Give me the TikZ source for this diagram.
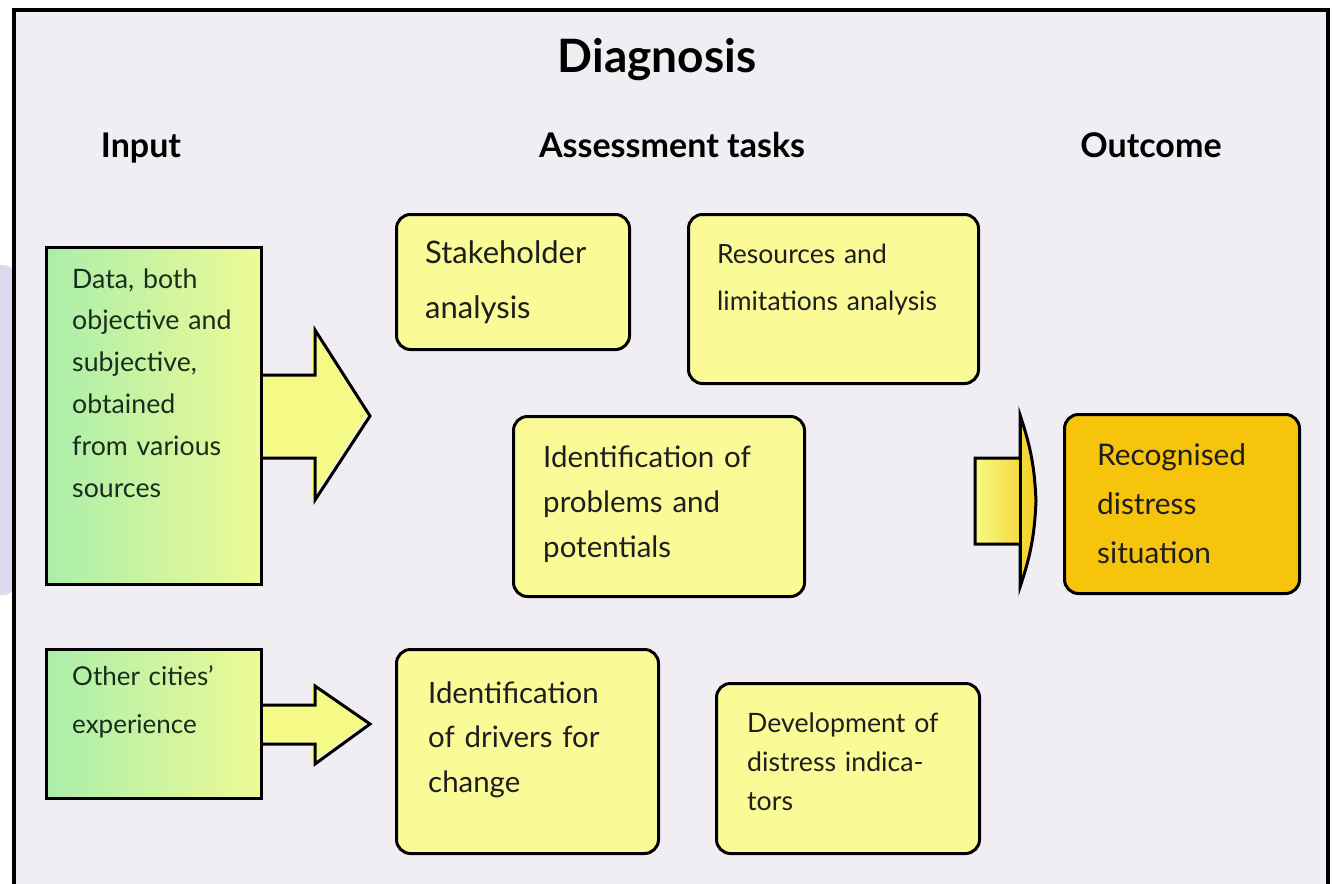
\documentclass[tikz,border=0pt]{standalone}
\usepackage{fontspec}
\setmainfont{Lato}
\usetikzlibrary{calc}
\definecolor{bgc}{RGB}{240,238,243}
\definecolor{lav}{RGB}{220,218,236}
\definecolor{boxy}{RGB}{250,250,150}
\definecolor{grn}{RGB}{170,238,170}
\definecolor{gyl}{RGB}{238,250,150}
\definecolor{arry}{RGB}{245,250,135}
\definecolor{orng}{RGB}{247,196,12}
\definecolor{ink}{RGB}{30,30,30}
\definecolor{ginkc}{RGB}{25,45,30}
\tikzset{
  ybox/.style={draw, line width=3pt, rounded corners=14pt, fill=boxy, inner sep=0pt, anchor=north west},
  gbox/.style={draw, line width=3pt, left color=grn, right color=gyl, inner sep=0pt, anchor=north west},
  obox/.style={draw, line width=3pt, rounded corners=14pt, fill=orng, inner sep=0pt, anchor=north west},
  txt/.style={inner sep=0pt, anchor=base west, align=left, text=ink},
  head/.style={inner sep=0pt, anchor=base, text=black, font=\fontsize{34}{40}\selectfont\bfseries},
  barrow/.style={line width=3pt, line join=miter},
}
\begin{document}
\begin{tikzpicture}[x=1pt,y=-1pt]
\useasboundingbox (0,0) rectangle (1332,883);
\fill[white] (0,0) rectangle (1332,883);
\fill[lav, rounded corners=10pt] (-30,265) rectangle (14,595);
\fill[bgc] (14,10) rectangle (1328,900);
\draw[line width=4pt] (14,900) -- (14,10) -- (1328,10) -- (1328,900);

% headings
\node[inner sep=0pt, anchor=base, font=\fontsize{46}{52}\selectfont\bfseries] (title) at (657,72) {Diagnosis};
\node[head] (hin) at (141,157) {Input};
\node[head] (hass) at (672,157) {Assessment tasks};
\node[head] (hout) at (1151,157) {Outcome};

% input arrows (fill first)
\coordinate (dE) at (260,414.5);
\coordinate (oE) at (260,722.5);
\fill[arry] ($(dE)+(-5,-41)$) -- ($(dE)+(52,-41)$) -- ($(dE)+(52,-86)$) -- ($(dE)+(107,0)$) -- ($(dE)+(52,84)$) -- ($(dE)+(52,42)$) -- ($(dE)+(-5,42)$) -- cycle;
\fill[arry] ($(oE)+(-5,-19)$) -- ($(oE)+(52,-19)$) -- ($(oE)+(52,-38)$) -- ($(oE)+(107,0)$) -- ($(oE)+(52,40)$) -- ($(oE)+(52,20)$) -- ($(oE)+(-5,20)$) -- cycle;

% input boxes
\node[gbox, minimum width=215pt, minimum height=337pt] (data) at (45,246) {};
\node[gbox, minimum width=215pt, minimum height=149pt] (other) at (45,648) {};
\draw[barrow] ($(data.east)+(0,-41)$) -- ($(data.east)+(52,-41)$) -- ($(data.east)+(52,-86)$) -- ($(data.east)+(107,0)$) -- ($(data.east)+(52,84)$) -- ($(data.east)+(52,42)$) -- ($(data.east)+(0,42)$);
\draw[barrow] ($(other.east)+(0,-19)$) -- ($(other.east)+(52,-19)$) -- ($(other.east)+(52,-38)$) -- ($(other.east)+(107,0)$) -- ($(other.east)+(52,40)$) -- ($(other.east)+(52,20)$) -- ($(other.east)+(0,20)$);
\node[txt, text=ginkc, text width=185pt, font=\fontsize{26.7}{41.8}\selectfont] (datat) at (72,288) {Data, both\\objective and\\subjective,\\obtained\\from various\\sources};
\node[txt, text=ginkc, text width=185pt, font=\fontsize{26}{48}\selectfont] (othert) at (72,685) {Other cities'\\experience};

% assessment boxes
\node[ybox, minimum width=233pt, minimum height=135pt] (stake) at (395,213) {};
\node[txt, text width=200pt, font=\fontsize{31}{55}\selectfont] (staket) at (425,263) {Stakeholder\\analysis};
\node[ybox, minimum width=290pt, minimum height=169pt] (res) at (687,213) {};
\node[txt, text width=260pt, font=\fontsize{26.5}{47}\selectfont] (rest) at (717,263) {Resources and\\limitations analysis};
\node[ybox, minimum width=291pt, minimum height=180pt] (prob) at (512,415) {};
\node[txt, text width=260pt, font=\fontsize{29.5}{45}\selectfont] (probt) at (543,467) {Identification of\\problems and\\potentials};
\node[ybox, minimum width=262pt, minimum height=204pt] (drv) at (395,648) {};
\node[txt, text width=230pt, font=\fontsize{29.4}{44.5}\selectfont] (drvt) at (428,703) {Identification\\of drivers for\\change};
\node[ybox, minimum width=263pt, minimum height=170pt] (dev) at (715,682) {};
\node[txt, text width=230pt, font=\fontsize{26.7}{39}\selectfont] (devt) at (747,732) {Development of\\distress indica-\\tors};

% outcome
\node[obox, minimum width=235pt, minimum height=179pt] (rec) at (1063,413) {};
\node[txt, text width=200pt, font=\fontsize{29.8}{49}\selectfont] (rect) at (1097,465) {Recognised\\distress\\situation};
\coordinate (rW) at ($(rec.west)+(0,-3)$);
\draw[barrow, left color=arry, right color=orng!80!arry]
  ($(rW)+(-88,-43)$) -- ($(rW)+(-43,-43)$) -- ($(rW)+(-43,-86)$)
  to[bend left=8] ($(rW)+(-27,0)$) to[bend left=8] ($(rW)+(-43,86)$)
  -- ($(rW)+(-43,43)$) -- ($(rW)+(-88,43)$) -- cycle;
\draw[line width=3pt] ($(rW)+(-43,-86)$) -- ($(rW)+(-43,86)$);
\end{tikzpicture}
\end{document}
